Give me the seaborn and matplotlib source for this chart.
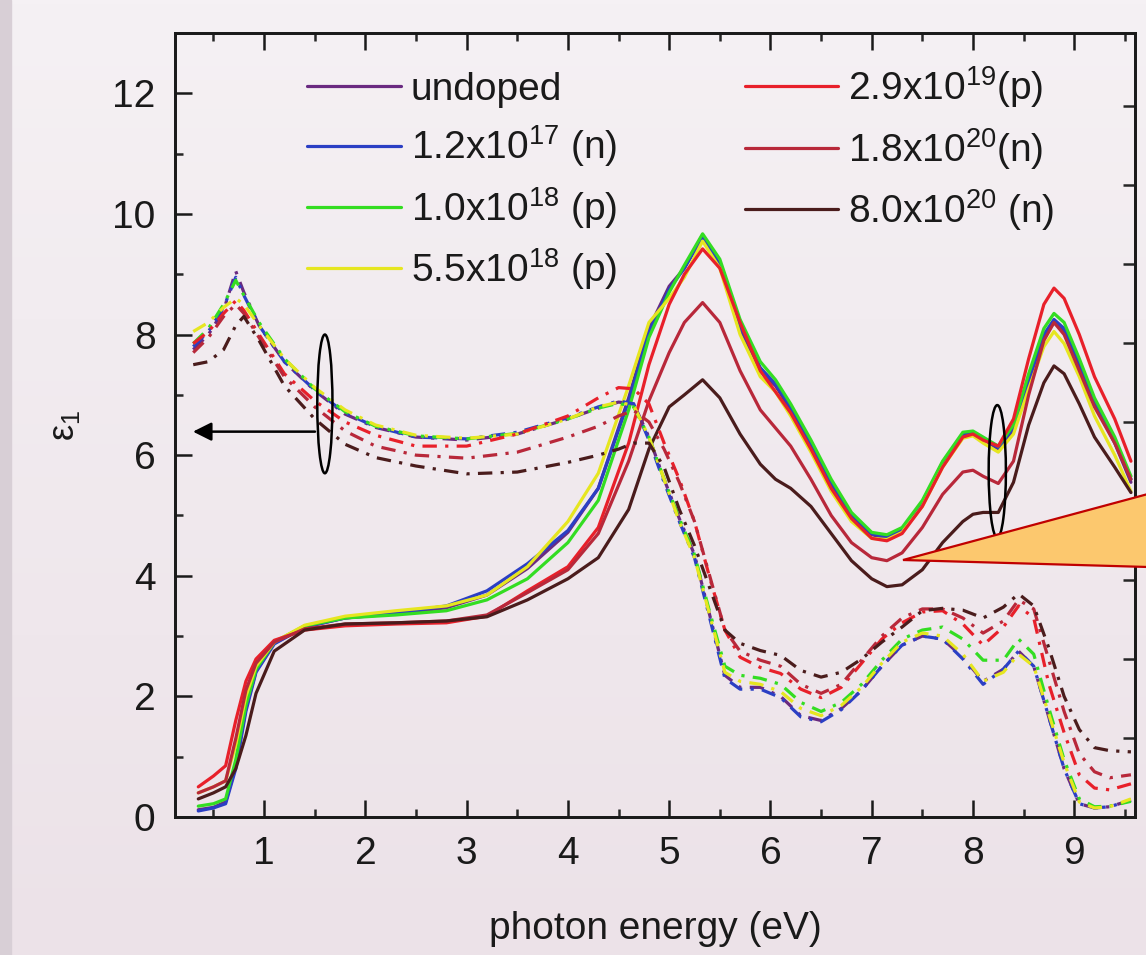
import numpy as np
import pandas as pd
import matplotlib
matplotlib.use("Agg")
import matplotlib.pyplot as plt
import seaborn as sns
from matplotlib.patches import Ellipse, Polygon

# ---------------- data ----------------
series_labels = ["undoped", "1.2x10$^{17}$ (n)", "1.0x10$^{18}$ (p)", "5.5x10$^{18}$ (p)",
                 "2.9x10$^{19}$(p)", "1.8x10$^{20}$(n)", "8.0x10$^{20}$ (n)"]
series_colors = ["#6a2a80", "#2b3fc4", "#33dd22", "#e6e620", "#e8202a", "#b8283a", "#4a1c1c"]

# photon energy grid for the solid curves (eV)
energy_solid = [0.35, 0.5, 0.62, 0.72, 0.82, 0.92, 1.1, 1.4, 1.8, 2.3, 2.8, 3.2, 3.6, 4.0, 4.3,
                4.6, 4.8, 5.0, 5.15, 5.33, 5.5, 5.7, 5.9, 6.05, 6.2, 6.4, 6.6, 6.8, 7.0, 7.15,
                7.3, 7.5, 7.7, 7.9, 8.0, 8.1, 8.25, 8.4, 8.55, 8.7, 8.8, 8.9, 9.05, 9.2, 9.4, 9.56]

solid_undoped = [0.12, 0.16, 0.25, 0.85, 1.8, 2.42, 2.88, 3.15, 3.3, 3.37, 3.47, 3.68, 4.12, 4.72, 5.45,
                 6.95, 8.1, 8.8, 9.1, 9.65, 9.15, 8.1, 7.4, 7.15, 6.75, 6.15, 5.5, 4.95, 4.68, 4.63,
                 4.75, 5.2, 5.85, 6.33, 6.37, 6.27, 6.1, 6.4, 7.2, 7.95, 8.2, 8.05, 7.5, 6.85, 6.2, 5.55]
solid_1p2e17 = [0.1, 0.15, 0.22, 0.8, 1.75, 2.4, 2.87, 3.15, 3.3, 3.38, 3.5, 3.75, 4.2, 4.75, 5.45,
                6.9, 8.05, 8.75, 9.1, 9.62, 9.15, 8.15, 7.45, 7.18, 6.8, 6.2, 5.55, 5.0, 4.7, 4.64,
                4.76, 5.22, 5.88, 6.35, 6.38, 6.28, 6.12, 6.45, 7.25, 8.0, 8.25, 8.1, 7.55, 6.9, 6.25, 5.6]
solid_1p0e18 = [0.18, 0.22, 0.3, 0.95, 1.85, 2.45, 2.9, 3.17, 3.3, 3.35, 3.42, 3.6, 3.95, 4.55, 5.25,
                6.75, 7.95, 8.7, 9.15, 9.67, 9.25, 8.25, 7.55, 7.25, 6.85, 6.25, 5.6, 5.05, 4.72, 4.68,
                4.8, 5.25, 5.9, 6.38, 6.4, 6.3, 6.15, 6.5, 7.35, 8.1, 8.35, 8.2, 7.6, 6.95, 6.3, 5.65]
solid_5p5e18 = [0.4, 0.5, 0.6, 1.2, 2.0, 2.5, 2.9, 3.18, 3.33, 3.42, 3.5, 3.68, 4.15, 4.9, 5.7,
                7.15, 8.2, 8.6, 8.95, 9.55, 9.1, 8.0, 7.3, 7.05, 6.65, 6.05, 5.4, 4.9, 4.62, 4.6,
                4.72, 5.15, 5.8, 6.28, 6.32, 6.2, 6.05, 6.35, 7.1, 7.8, 8.05, 7.85, 7.3, 6.65, 6.0, 5.4]
solid_2p9e19 = [0.5, 0.68, 0.85, 1.6, 2.25, 2.62, 2.93, 3.1, 3.17, 3.2, 3.22, 3.33, 3.75, 4.15, 4.8,
                6.2, 7.5, 8.5, 9.0, 9.42, 9.1, 8.2, 7.4, 7.05, 6.7, 6.1, 5.45, 4.95, 4.62, 4.58,
                4.7, 5.15, 5.8, 6.3, 6.35, 6.25, 6.15, 6.6, 7.6, 8.5, 8.77, 8.6, 8.0, 7.3, 6.6, 5.9]
solid_1p8e20 = [0.4, 0.5, 0.6, 1.3, 2.1, 2.55, 2.9, 3.12, 3.2, 3.22, 3.25, 3.35, 3.72, 4.1, 4.7,
                5.9, 6.9, 7.7, 8.2, 8.53, 8.2, 7.4, 6.75, 6.45, 6.15, 5.6, 5.0, 4.55, 4.3, 4.25,
                4.38, 4.8, 5.35, 5.72, 5.75, 5.65, 5.53, 5.9, 7.0, 7.9, 8.2, 8.0, 7.4, 6.8, 6.2, 5.6]
solid_8p0e20 = [0.3, 0.4, 0.5, 0.8, 1.35, 2.05, 2.75, 3.1, 3.2, 3.22, 3.25, 3.32, 3.6, 3.95, 4.3,
                5.1, 6.1, 6.8, 7.0, 7.25, 6.95, 6.35, 5.85, 5.6, 5.45, 5.15, 4.7, 4.25, 3.95, 3.82,
                3.85, 4.1, 4.55, 4.9, 5.02, 5.05, 5.05, 5.55, 6.5, 7.2, 7.48, 7.35, 6.85, 6.3, 5.8, 5.38]

# photon energy grid for the dash-dot curves (eV)
energy_dash = [0.3, 0.45, 0.6, 0.72, 0.8, 0.95, 1.2, 1.5, 1.8, 2.1, 2.5, 3.0, 3.5, 4.0, 4.3,
               4.5, 4.65, 4.8, 4.95, 5.1, 5.25, 5.4, 5.55, 5.7, 5.9, 6.1, 6.3, 6.5, 6.7, 6.9,
               7.1, 7.3, 7.5, 7.7, 7.9, 8.1, 8.3, 8.45, 8.6, 8.75, 8.9, 9.05, 9.2, 9.35, 9.56]

dash_undoped = [7.75, 8.0, 8.4, 9.05, 8.7, 8.15, 7.55, 7.07, 6.68, 6.46, 6.3, 6.25, 6.35, 6.6, 6.78,
                6.88, 6.85, 6.3, 5.6, 4.95, 4.35, 3.35, 2.35, 2.15, 2.15, 2.0, 1.68, 1.6, 1.8, 2.1,
                2.5, 2.85, 3.0, 2.95, 2.65, 2.25, 2.45, 2.75, 2.5, 1.65, 0.8, 0.22, 0.15, 0.17, 0.28]
dash_1p2e17 = [7.8, 8.05, 8.45, 8.95, 8.65, 8.15, 7.55, 7.08, 6.7, 6.47, 6.3, 6.27, 6.38, 6.62, 6.8,
               6.9, 6.85, 6.25, 5.55, 4.9, 4.3, 3.3, 2.3, 2.12, 2.12, 1.98, 1.66, 1.58, 1.78, 2.1,
               2.5, 2.85, 3.0, 2.95, 2.62, 2.2, 2.45, 2.75, 2.5, 1.65, 0.8, 0.22, 0.15, 0.17, 0.28]
dash_1p0e18 = [7.85, 8.1, 8.5, 8.9, 8.65, 8.2, 7.6, 7.1, 6.72, 6.48, 6.32, 6.27, 6.36, 6.6, 6.78,
               6.86, 6.8, 6.3, 5.6, 4.95, 4.35, 3.4, 2.5, 2.35, 2.3, 2.2, 1.9, 1.75, 1.9, 2.2,
               2.6, 2.95, 3.1, 3.15, 2.95, 2.6, 2.6, 2.95, 2.7, 1.8, 0.95, 0.3, 0.17, 0.18, 0.26]
dash_5p5e18 = [8.05, 8.2, 8.45, 8.6, 8.5, 8.15, 7.6, 7.12, 6.75, 6.5, 6.33, 6.28, 6.35, 6.6, 6.8,
               6.88, 6.82, 6.3, 5.6, 4.9, 4.3, 3.35, 2.4, 2.25, 2.2, 2.08, 1.8, 1.68, 1.85, 2.15,
               2.55, 2.9, 3.05, 3.0, 2.7, 2.25, 2.4, 2.7, 2.5, 1.7, 0.9, 0.25, 0.15, 0.17, 0.3]
dash_2p9e19 = [7.85, 8.05, 8.35, 8.56, 8.4, 8.0, 7.35, 6.9, 6.55, 6.33, 6.15, 6.15, 6.35, 6.65, 6.95,
               7.12, 7.1, 6.85, 6.2, 5.6, 4.9, 3.97, 3.1, 2.65, 2.48, 2.38, 2.12, 1.98, 2.15, 2.55,
               2.95, 3.22, 3.4, 3.42, 3.2, 2.85, 3.15, 3.5, 3.3, 2.2, 1.4, 0.7, 0.48, 0.45, 0.55]
dash_1p8e20 = [7.7, 7.95, 8.3, 8.5, 8.35, 7.95, 7.3, 6.8, 6.4, 6.15, 6.0, 5.95, 6.05, 6.3, 6.48,
               6.65, 6.74, 6.55, 6.1, 5.55, 4.9, 4.0, 3.1, 2.75, 2.6, 2.5, 2.2, 2.05, 2.2, 2.6,
               3.0, 3.3, 3.45, 3.45, 3.3, 3.05, 3.25, 3.6, 3.45, 2.6, 1.75, 1.05, 0.75, 0.65, 0.7]
dash_8p0e20 = [7.5, 7.55, 7.75, 8.15, 8.3, 7.9, 7.15, 6.6, 6.18, 5.96, 5.82, 5.69, 5.72, 5.88, 6.0,
               6.1, 6.2, 6.2, 5.8, 5.1, 4.5, 3.8, 3.1, 2.88, 2.76, 2.68, 2.43, 2.32, 2.4, 2.62,
               2.9, 3.15, 3.42, 3.46, 3.43, 3.3, 3.48, 3.7, 3.5, 2.8, 2.0, 1.45, 1.15, 1.1, 1.08]

solid_series = [solid_undoped, solid_1p2e17, solid_1p0e18, solid_5p5e18,
                solid_2p9e19, solid_1p8e20, solid_8p0e20]
dash_series = [dash_undoped, dash_1p2e17, dash_1p0e18, dash_5p5e18,
               dash_2p9e19, dash_1p8e20, dash_8p0e20]

x_ticks = [1, 2, 3, 4, 5, 6, 7, 8, 9]
y_ticks = [0, 2, 4, 6, 8, 10, 12]

# ---------------- style ----------------
sns.set_theme(style="ticks")
plt.rcParams["font.family"] = ["Liberation Sans", "DejaVu Sans"]
plt.rcParams["mathtext.fontset"] = "custom"
plt.rcParams["mathtext.rm"] = "Liberation Sans"
plt.rcParams["mathtext.it"] = "Liberation Sans:italic"
plt.rcParams["mathtext.default"] = "regular"
TXT = "#1a1a1a"

W, H = 1146, 955
fig = plt.figure(figsize=(W / 100, H / 100), dpi=100)

# background gradient + left strip
bg = fig.add_axes([0, 0, 1, 1], zorder=-10)
top = np.array([0xf5, 0xf1, 0xf4]) / 255
bot = np.array([0xec, 0xe2, 0xe8]) / 255
t = np.linspace(0, 1, 200)[:, None, None]
grad = top[None, None, :] * (1 - t) + bot[None, None, :] * t
grad = np.repeat(grad, 2, axis=1)
bg.imshow(grad, aspect="auto", extent=[0, 1, 0, 1])
bg.axvspan(0, 11 / W, color="#d8cfd6")
bg.set_xlim(0, 1); bg.set_ylim(0, 1)
bg.axis("off")

L, R, B, T = 175, 1135, 817, 33
ax = fig.add_axes([L / W, 1 - B / H, (R - L) / W, (B - T) / H])
ax.set_facecolor("none")

LW = 2.3
for e_vals, lab, col in zip(solid_series, series_labels, series_colors):
    sns.lineplot(x=energy_solid, y=e_vals, color=col, lw=LW, ax=ax, label=lab,
                 sort=False, estimator=None)
for e_vals, col in zip(dash_series, series_colors):
    sns.lineplot(x=energy_dash, y=e_vals, color=col, lw=LW, ax=ax,
                 sort=False, estimator=None, dashes=False, legend=False)
# apply dash-dot pattern to dashed curves
for ln in ax.get_lines()[len(solid_series):]:
    ln.set_dashes((4.5, 2.6, 1, 2.6))

ax.set_xlim(0.12, 9.6)
ax.set_ylim(0, 13)
ax.set_xticks(x_ticks)
ax.set_yticks(y_ticks)
ax.set_xticks(np.arange(0.5, 9.6, 1.0), minor=True)
ax.set_yticks(np.arange(1, 13, 2), minor=True)
ax.tick_params(axis="both", which="major", direction="in", length=12, width=1.8,
               labelsize=28, colors=TXT, pad=14)
ax.tick_params(axis="both", which="minor", direction="in", length=6, width=1.8)
ax.tick_params(axis="x", top=True, which="both")
ax.tick_params(axis="y", right=False, which="both")
for s in ax.spines.values():
    s.set_linewidth(2.0)
    s.set_color(TXT)
    s.set_visible(True)

ax.set_xlabel("photon energy (eV)", fontsize=28, color=TXT, labelpad=28)
ax.set_ylabel("ε$_1$", fontsize=26, color=TXT, labelpad=22)

# right axis ticks (scale of the solid curves, labels cut off)
ax2 = ax.twinx()
ax2.set_ylim(0, (B - T) / 79)
ax2.set_yticks(np.arange(0, 10, 1))
ax2.tick_params(axis="y", direction="in", length=9, width=1.8, labelright=False)
for s in ax2.spines.values():
    s.set_linewidth(2.0)
    s.set_color(TXT)

# ellipses and arrow
ax.add_patch(Ellipse((1.6, 6.85), 0.15, 2.3, fill=False, ec="black", lw=1.8, zorder=6))
ax.add_patch(Ellipse((8.24, 5.73), 0.17, 2.2, fill=False, ec="black", lw=1.8, zorder=6))
ax.annotate("", xy=(0.27, 6.39), xytext=(1.53, 6.39),
            arrowprops=dict(arrowstyle="-|>", color="black", lw=1.8, mutation_scale=28))

# legend
leg = ax.legend(loc="upper left", bbox_to_anchor=(0.138, 0.96), ncol=2, frameon=False,
                fontsize=28, handlelength=2.4, handletextpad=0.25, columnspacing=3.3,
                labelspacing=0.40, borderpad=0, borderaxespad=0)
for t_ in leg.get_texts():
    t_.set_color(TXT)
for h in leg.get_lines():
    h.set_linewidth(2.3)

# callout triangle (drawn over the right edge)
pts = [(903, 560), (W + 2, 494), (W + 2, 567)]
tri = Polygon([(x / W, 1 - y / H) for x, y in pts], closed=True, transform=fig.transFigure,
              fc="#fcc86e", ec="#c00000", lw=1.6, zorder=20)
fig.add_artist(tri)

fig.savefig("out.png", dpi=100)
